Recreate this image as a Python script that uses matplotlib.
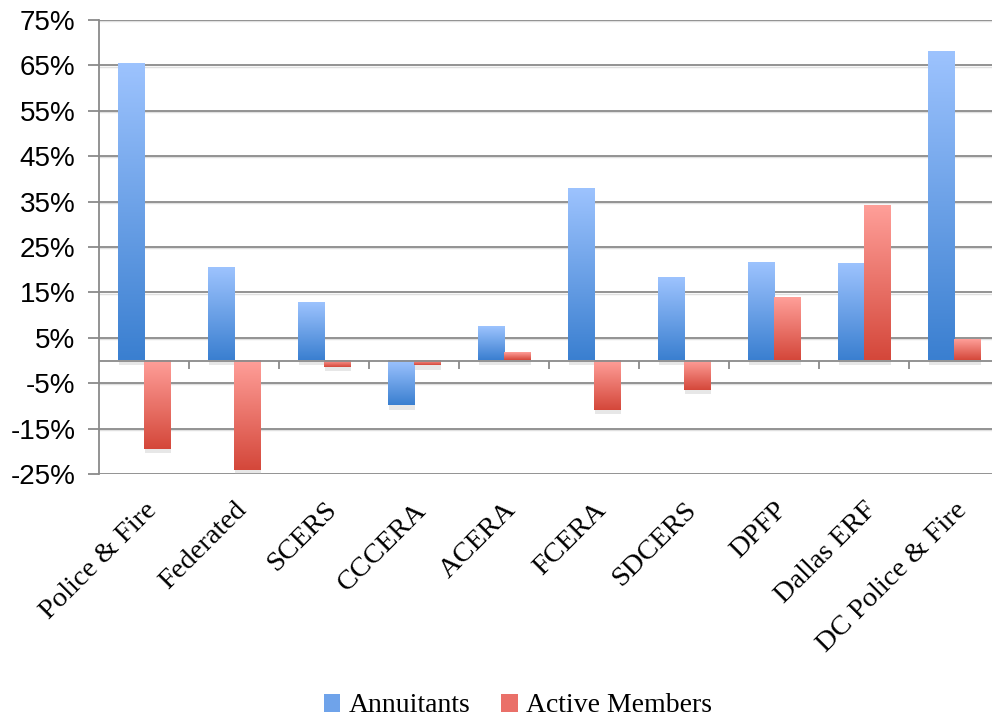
import numpy as np
import matplotlib
matplotlib.use("Agg")
import matplotlib.pyplot as plt
from matplotlib.colors import LinearSegmentedColormap
from matplotlib.patches import Patch
import matplotlib.patheffects as pe

plans = ["Police & Fire", "Federated", "SCERS", "CCCERA", "ACERA",
         "FCERA", "SDCERS", "DPFP", "Dallas ERF", "DC Police & Fire"]
annuitants = [65.4, 20.4, 12.7, -9.9, 7.4, 37.8, 18.2, 21.5, 21.3, 68.0]
active = [-19.4, -24.1, -1.5, -1.1, 1.7, -10.8, -6.4, 13.8, 34.1, 4.6]
yticks = [-25, -15, -5, 5, 15, 25, 35, 45, 55, 65, 75]

blue_cm = LinearSegmentedColormap.from_list("b", ["#3a7fd0", "#9dc3fe"])
red_cm = LinearSegmentedColormap.from_list("r", ["#d4473a", "#ff9f99"])
grad = np.linspace(0, 1, 256).reshape(-1, 1)

W, H = 992, 721
fig = plt.figure(figsize=(W / 100, H / 100), dpi=100)
ax = fig.add_axes([99 / W, 1 - 474 / H, 900 / W, 454 / H])

x = np.arange(len(plans))
w = 0.29
shadow = [pe.SimplePatchShadow(offset=(0.5, -3), shadow_rgbFace="#b0b0b0", alpha=0.3), pe.Normal()]

for vals, off, cm in [(annuitants, -w / 2, blue_cm), (active, w / 2, red_cm)]:
    bars = ax.bar(x + off, vals, width=w, color="white", zorder=3, linewidth=0)
    for b in bars:
        b.set_path_effects(shadow)
        x0, y0 = b.get_x(), b.get_y()
        x1, y1 = x0 + b.get_width(), y0 + b.get_height()
        ax.imshow(grad, cmap=cm, origin="lower", aspect="auto",
                  extent=[x0, x1, min(y0, y1), max(y0, y1)], zorder=4)

ax.set_xlim(-0.5, 9.5)
ax.set_ylim(-25, 75)

# grid lines
for yt in yticks:
    ax.axhline(yt - 0.25, color="#e0e0e0", lw=1.0, zorder=1)
    ax.axhline(yt, color="#8a8a8a", lw=1.3, zorder=2)
ax.axhline(0, color="#8a8a8a", lw=1.3, zorder=5)
ax.vlines(np.arange(0.5, 9.5, 1), -1.8, 0, color="#8a8a8a", lw=1.3, zorder=5)

for s in ["top", "right", "bottom"]:
    ax.spines[s].set_visible(False)
ax.spines["left"].set_color("#8a8a8a")
ax.spines["left"].set_linewidth(1.3)

ax.set_yticks(yticks)
ax.set_yticklabels([f"{v}%" for v in yticks], fontsize=20, family="Liberation Sans")
ax.tick_params(axis="y", length=8, width=1.3, color="#8a8a8a", pad=9)

ax.set_xticks(x)
ax.set_xticklabels(plans, rotation=45, ha="right", rotation_mode="anchor",
                   fontsize=20.5, family="Liberation Serif")
ax.tick_params(axis="x", length=0, pad=17)

handles = [Patch(facecolor="#6fa3ea", label="Annuitants"),
           Patch(facecolor="#ea7069", label="Active Members")]
fig.legend(handles=handles, loc="center", bbox_to_anchor=(0.522, 1 - 706 / H),
           ncol=2, frameon=False, prop={"family": "Liberation Serif", "size": 20},
           handlelength=0.6, handleheight=0.6, handletextpad=0.3, columnspacing=1.1)

fig.savefig("out.png", dpi=100)
